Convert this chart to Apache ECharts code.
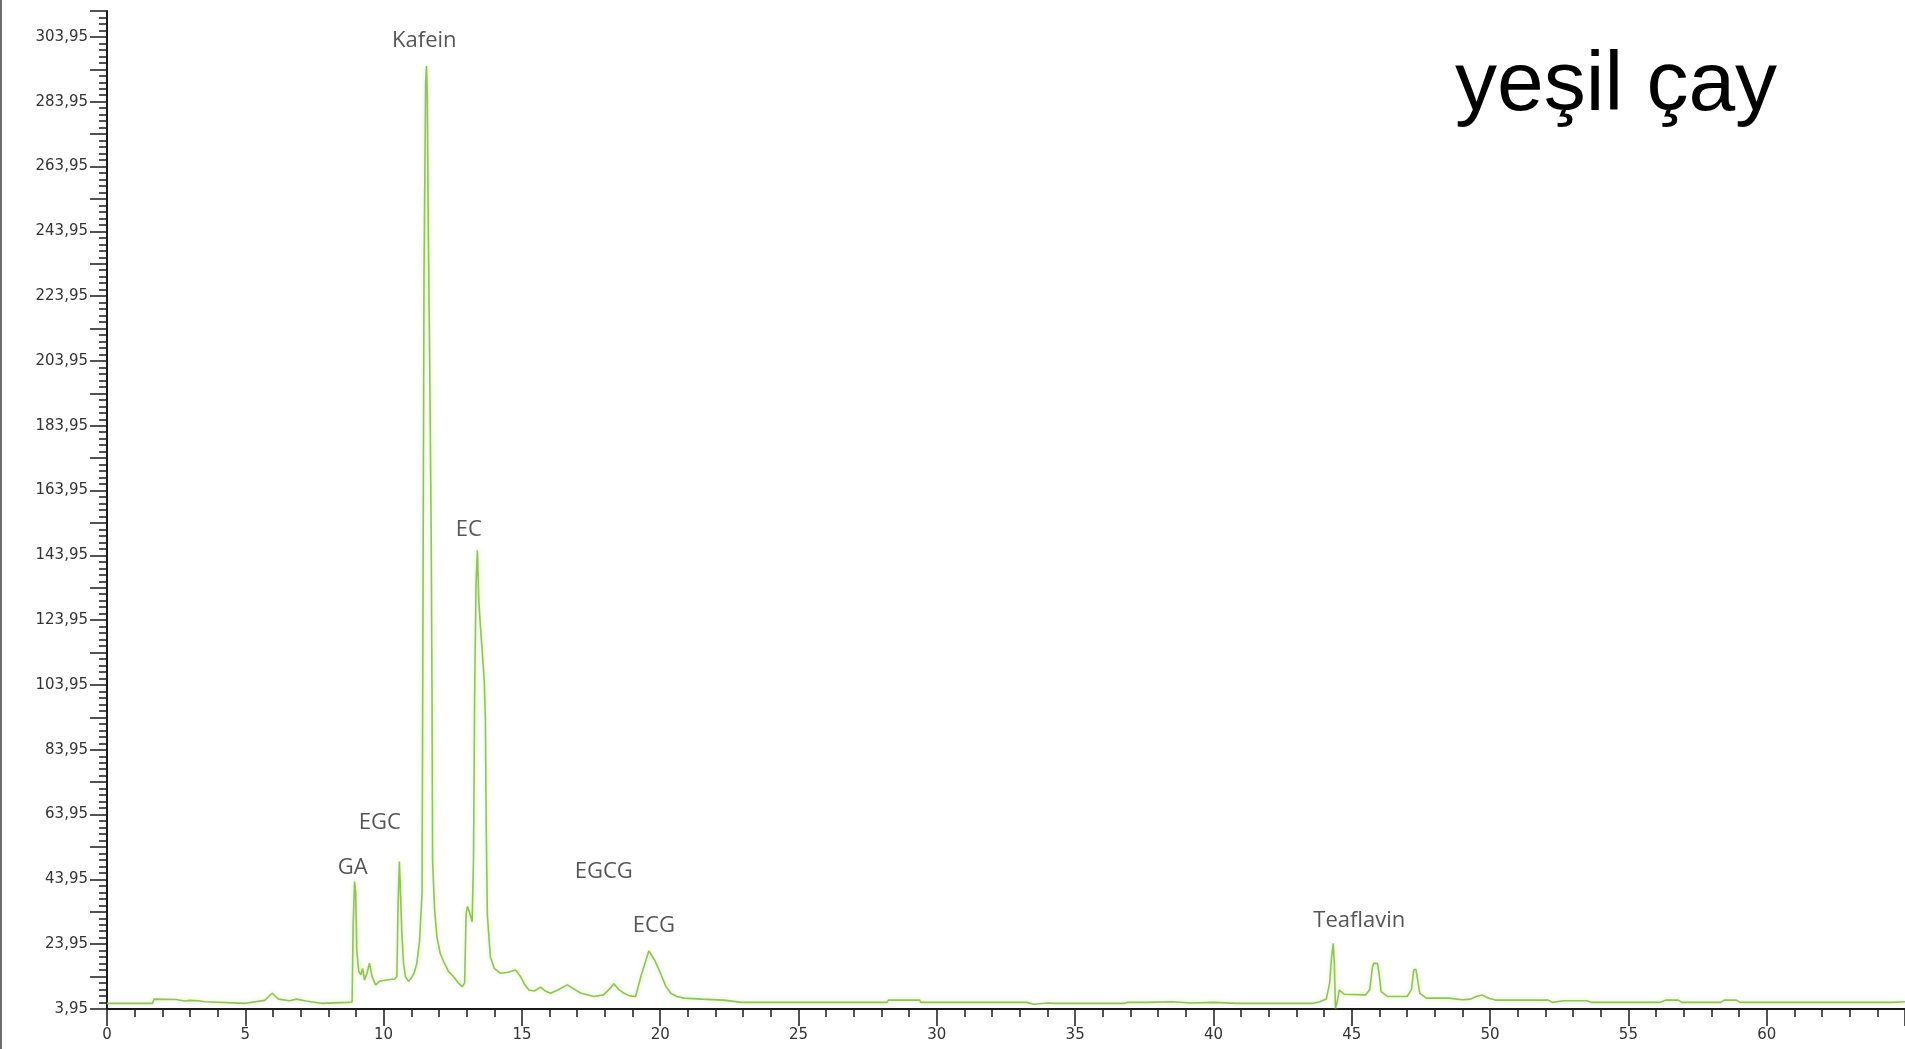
<!DOCTYPE html>
<html>
<head>
<meta charset="utf-8">
<script src="https://cdn.jsdelivr.net/npm/echarts@6/dist/echarts.min.js"></script>
<style>
html,body{margin:0;padding:0;background:#fff;}
#chart{width:1905px;height:1049px;}
</style>
</head>
<body>
<div id="chart"></div>
<script>
// Retention time (min)
const retentionTimes = [
  0, 1.65, 1.7, 2.5, 2.8, 3.0, 3.3, 3.55, 5.0, 5.7, 5.97, 6.2, 6.6, 6.86, 7.18, 7.75, 8.7, 8.86,
  8.90, 8.95, 8.99, 9.03, 9.10, 9.18, 9.24, 9.31, 9.40, 9.49, 9.58, 9.71, 9.85, 10.1, 10.4, 10.48,
  10.52, 10.57, 10.61, 10.66, 10.72, 10.79, 10.9, 11.0, 11.1, 11.2, 11.3, 11.39,
  11.42, 11.46, 11.52, 11.55, 11.58, 11.61, 11.67, 11.72, 11.75, 11.77, 11.84, 11.93, 12.05, 12.17, 12.35, 12.53, 12.7, 12.84, 12.93,
  12.98, 13.03, 13.08, 13.2, 13.25, 13.29, 13.34, 13.39, 13.44, 13.5, 13.56, 13.64, 13.68, 13.71, 13.75, 13.86, 14.0, 14.22, 14.5, 14.77, 14.95, 15.1, 15.25, 15.45, 15.67, 15.85, 16.03, 16.3, 16.64, 16.9, 17.12, 17.6, 17.95, 18.15, 18.32, 18.5, 18.69, 18.9, 19.11, 19.3, 19.59, 19.8, 20.01, 20.2, 20.38, 20.6, 20.86, 21.5, 22.29, 22.94,
  28.2, 28.25, 29.38, 29.42, 33.26, 33.5, 34.0, 34.23, 36.8, 36.9, 37.6, 38.5, 39.2, 40.0, 40.85, 43.6, 43.84, 44.08,
  44.2, 44.27, 44.33, 44.37, 44.41, 44.47, 44.55, 44.73, 45.5, 45.65, 45.75, 45.8, 45.93, 46.0, 46.06, 46.3, 47.0, 47.16, 47.24, 47.32, 47.4, 47.46, 47.7, 48.5, 49.0, 49.3, 49.5, 49.7, 49.98, 50.2, 50.9, 52.1, 52.25, 52.67, 53.5, 53.65, 56.16, 56.36, 56.8, 56.94, 58.33, 58.47, 58.9, 59.04, 64.5, 65
];
// Detector signal
const signal = [
  5.7, 5.7, 7.0, 6.9, 6.4, 6.6, 6.5, 6.2, 5.7, 6.6, 8.8, 7.0, 6.5, 7.0, 6.4, 5.7, 6.0, 6.1,
  30, 43.3, 40, 22, 15.5, 14.5, 16.5, 12.9, 15, 18.1, 14, 11.4, 12.5, 12.9, 13.2, 14,
  35, 49.5, 40, 27.3, 18, 13.9, 12.5, 13.5, 15, 18, 25, 39.8,
  120, 230, 290, 295, 285, 250, 200, 150, 100, 50, 35, 26, 21, 18.6, 15.5, 13.9, 12, 10.8, 12,
  33, 35.6, 34.5, 30.9, 50, 100, 135, 145.5, 130, 122, 115, 105, 93, 60, 33, 20, 16.5, 15, 15.3, 16, 14, 11.5, 9.8, 9.5, 10.7, 9.5, 8.8, 9.8, 11.4, 10, 8.9, 7.8, 8.3, 10, 11.7, 10, 8.8, 8, 7.8, 14, 21.9, 19, 15, 11, 8.8, 7.8, 7.3, 7.0, 6.7, 6.0,
  6.0, 6.7, 6.7, 6.0, 6.0, 5.4, 5.8, 5.7, 5.7, 6.0, 6.0, 6.2, 5.8, 6.0, 5.7, 5.7, 6.2, 7.0,
  12, 20, 24.2, 18, 4.2, 6, 9.8, 8.5, 8.3, 10, 17, 18.1, 18, 14, 9.3, 7.8, 7.8, 10, 16, 16.2, 12, 8.8, 7.3, 7.3, 6.8, 7.0, 7.8, 8.3, 7.2, 6.7, 6.7, 6.7, 6.0, 6.5, 6.5, 6.0, 6.0, 6.7, 6.7, 6.0, 6.0, 6.7, 6.7, 6.0, 6.0, 6.2
];
// Peak annotations
const peakNames = ['GA', 'EGC', 'Kafein', 'EC', 'EGCG', 'ECG', 'Teaflavin'];
const peakLabelX = [8.88, 9.86, 11.47, 13.08, 17.96, 19.77, 45.27];
const peakLabelY = [47.45, 61.35, 302.9, 151.8, 46.4, 29.7, 31.25];

const chartTitle = 'yeşil çay';

const chart = echarts.init(document.getElementById('chart'), null, {renderer: 'canvas'});

const lineData = retentionTimes.map((t, i) => [t, signal[i]]);
const annoData = peakNames.map((n, i) => ({name: n, value: [peakLabelX[i], peakLabelY[i]]}));

const axisFont = {fontFamily: 'DejaVu Sans', fontSize: 15, color: '#333'};

chart.setOption({
  animation: false,
  backgroundColor: '#ffffff',
  title: {
    text: chartTitle,
    left: 1450,
    top: 40,
    textStyle: {fontFamily: 'Liberation Sans', fontSize: 84, fontWeight: 'normal', color: '#000', lineHeight: 84}
  },
  graphic: [{
    type: 'rect', left: 0, top: 0,
    shape: {width: 2, height: 1049},
    style: {fill: '#6e6e6e'}
  }],
  grid: {left: 107, right: 0, top: 11, bottom: 40, containLabel: false},
  xAxis: {
    type: 'value', min: 0, max: 65, interval: 5,
    axisLine: {show: true, lineStyle: {color: '#1a1a1a', width: 2}},
    axisTick: {show: true, length: 17, lineStyle: {color: '#1a1a1a', width: 1.5}},
    minorTick: {show: true, splitNumber: 5, length: 8, lineStyle: {color: '#1a1a1a', width: 1.5}},
    axisLabel: Object.assign({margin: 19, showMaxLabel: false}, axisFont),
    splitLine: {show: false}, minorSplitLine: {show: false}
  },
  yAxis: {
    type: 'value', min: 3.95, max: 311.95, interval: 10,
    axisLine: {show: true, lineStyle: {color: '#1a1a1a', width: 2}},
    axisTick: {show: true, length: 17, lineStyle: {color: '#1a1a1a', width: 1.5}},
    minorTick: {show: true, splitNumber: 5, length: 8, lineStyle: {color: '#1a1a1a', width: 1.5}},
    axisLabel: Object.assign({
      margin: 19,
      showMaxLabel: false,
      formatter: function (v) {
        const k = Math.round((v - 3.95) / 10);
        if (k % 2 !== 0) return '';
        return v.toFixed(2).replace('.', ',');
      }
    }, axisFont),
    splitLine: {show: false}, minorSplitLine: {show: false}
  },
  series: [{
    type: 'line',
    data: lineData,
    showSymbol: false,
    symbol: 'none',
    lineStyle: {color: '#93c15a', width: 1.6, shadowColor: 'rgba(190,235,130,0.7)', shadowBlur: 4},
    z: 2
  }, {
    type: 'scatter',
    data: annoData,
    symbolSize: 0,
    label: {
      show: true, position: 'inside',
      formatter: p => p.name,
      fontFamily: 'Open Sans', fontSize: 22, color: '#2b2b2b'
    },
    z: 3
  }]
});
</script>
</body>
</html>
